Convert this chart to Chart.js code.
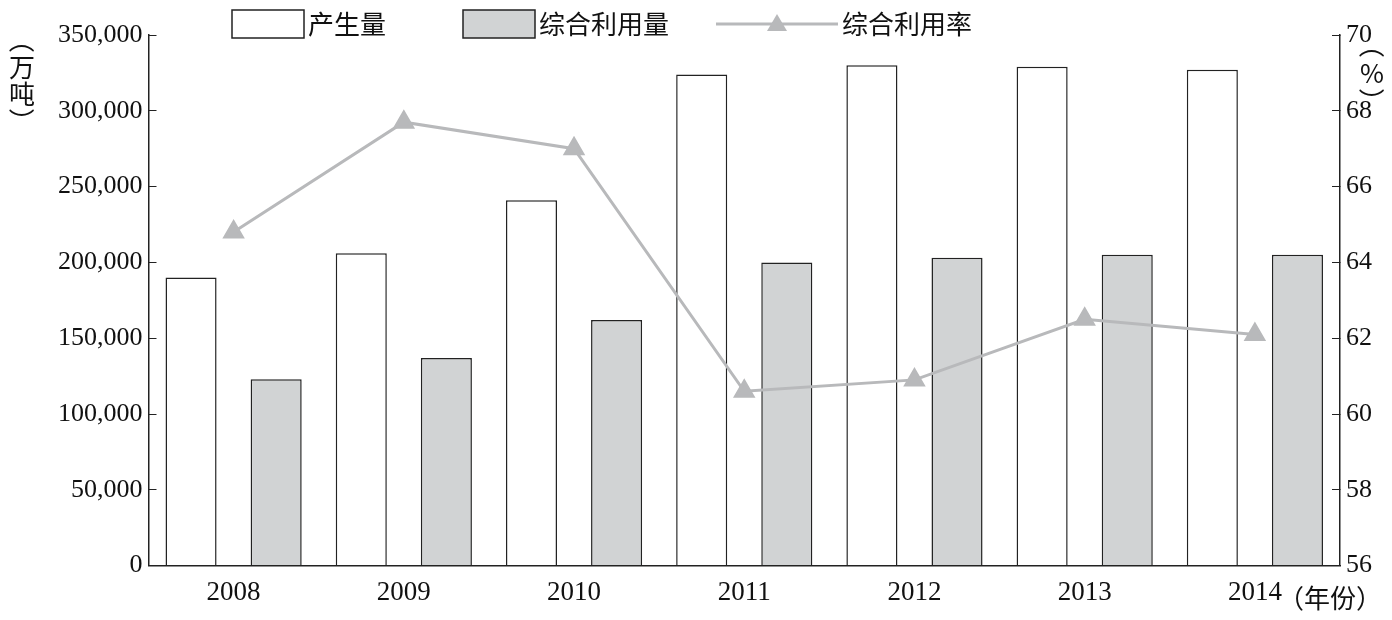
<!DOCTYPE html>
<html><head><meta charset="utf-8">
<script src="https://cdn.jsdelivr.net/npm/chart.js@4/dist/chart.umd.min.js"></script>
<style>body{margin:0;background:#fff}#w{width:1392px;height:620px}</style>
</head><body><div id="w"><canvas id="c"></canvas></div>
<script>
var years = ['2008', '2009', '2010', '2011', '2012', '2013', '2014'];
var produced = [190000, 206000, 241000, 324000, 330000, 329000, 327000];
var utilized = [123000, 137000, 162000, 200000, 203000, 205000, 205000];
var rate = [64.8, 67.7, 67.0, 60.6, 60.9, 62.5, 62.1];
var leftTicks = [0, 50000, 100000, 150000, 200000, 250000, 300000, 350000];
var rightTicks = [56, 58, 60, 62, 64, 66, 68, 70];
var cjk = "'Noto Sans CJK SC'";
var ser = "'Liberation Serif'";

function vtext(g, chars, x, y0, step, rotIdx) {
  for (var i = 0; i < chars.length; i++) {
    g.save();
    g.translate(x, y0 + i * step);
    if (rotIdx.indexOf(i) >= 0) { g.rotate(Math.PI / 2); }
    g.fillText(chars[i], 0, 0);
    g.restore();
  }
}

var deco = {
  id: 'deco',
  afterDraw: function (ch) {
    var g = ch.ctx;
    g.save();
    g.fillStyle = '#111';
    g.font = '26px ' + cjk;
    g.textAlign = 'center';
    g.textBaseline = 'middle';
    vtext(g, ['（', '万', '吨', '）'], 22, 40, 27, [0, 3]);
    vtext(g, ['（', '%', '）'], 1372, 45, 28, [0, 2]);
    g.fillText('（年份）', 1330, 598);
    g.textAlign = 'left';
    g.strokeStyle = '#222';
    g.lineWidth = 1.5;
    g.fillStyle = '#fff';
    g.fillRect(232, 10, 72, 28);
    g.strokeRect(232, 10, 72, 28);
    g.fillStyle = '#111';
    g.fillText('产生量', 308, 24);
    g.fillStyle = '#d1d3d4';
    g.fillRect(463, 10, 72, 28);
    g.strokeRect(463, 10, 72, 28);
    g.fillStyle = '#111';
    g.fillText('综合利用量', 539, 24);
    g.strokeStyle = '#b8b9bb';
    g.lineWidth = 3;
    g.beginPath(); g.moveTo(716, 24); g.lineTo(838, 24); g.stroke();
    g.fillStyle = '#b8b9bb';
    g.beginPath(); g.moveTo(777, 14); g.lineTo(787, 31); g.lineTo(767, 31); g.closePath(); g.fill();
    g.fillStyle = '#111';
    g.fillText('综合利用率', 842, 24);
    g.restore();
  }
};

function setTicks(list) {
  return function (a) { a.ticks = list.map(function (v) { return { value: v }; }); };
}

new Chart(document.getElementById('c'), {
  data: {
    labels: years,
    datasets: [
      { type: 'line', data: rate, yAxisID: 'y2', borderColor: '#b8b9bb', backgroundColor: '#b8b9bb', borderWidth: 3, pointStyle: 'triangle', pointRadius: 10, order: 0 },
      { type: 'bar', data: produced, yAxisID: 'y', backgroundColor: '#fff', borderColor: '#222', borderWidth: 1.5, barPercentage: 0.6, categoryPercentage: 1, order: 1 },
      { type: 'bar', data: utilized, yAxisID: 'y', backgroundColor: '#d1d3d4', borderColor: '#222', borderWidth: 1.5, barPercentage: 0.6, categoryPercentage: 1, order: 1 }
    ]
  },
  options: {
    responsive: true, maintainAspectRatio: false, animation: false,
    layout: { padding: { left: 44, right: 6, top: 35, bottom: 8 } },
    plugins: { legend: { display: false }, tooltip: { enabled: false } },
    scales: {
      x: { grid: { display: false }, border: { color: '#222', width: 1.5 }, ticks: { color: '#111', font: { family: ser, size: 27 } } },
      y: { min: 0, max: 350000, afterBuildTicks: setTicks(leftTicks), grid: { drawOnChartArea: false, color: '#222', tickLength: -8 }, border: { color: '#222', width: 1.5 }, ticks: { color: '#111', font: { family: ser, size: 26 }, padding: 14 } },
      y2: { position: 'right', min: 56, max: 70, afterBuildTicks: setTicks(rightTicks), grid: { drawOnChartArea: false, color: '#222', tickLength: -8 }, border: { color: '#222', width: 1.5 }, ticks: { color: '#111', font: { family: ser, size: 26 }, padding: 14 } }
    }
  },
  plugins: [deco]
});
</script></body></html>
